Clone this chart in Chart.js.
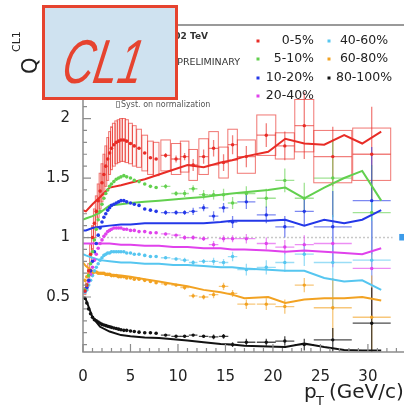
<!DOCTYPE html>
<html>
<head>
<meta charset="utf-8">
<script src="https://cdn.jsdelivr.net/npm/chart.js@4.4.1/dist/chart.umd.min.js"></script>
<style>
  html, body { margin: 0; padding: 0; background: #fff; }
</style>
</head>
<body>
<canvas id="cl1" width="408" height="409"></canvas>
<script>
// centrality classes and colours
const centralities = ['0-5%', '5-10%', '10-20%', '20-40%', '40-60%', '60-80%', '80-100%'];
const seriesRgb = [[232, 44, 38], [98, 208, 78], [36, 56, 232], [224, 66, 236], [86, 198, 240], [242, 162, 34], [18, 18, 18]];

const xTickValues = [0, 5, 10, 15, 20, 25, 30];
const xTickLabels = ['0', '5', '10', '15', '20', '25', '30'];
const yTickValues = [0.5, 1, 1.5, 2];
const yTickLabels = ['0.5', '1', '1.5', '2'];

// low pT (dense) bins
const ptDense = [0.2, 0.4, 0.6, 0.8, 1.0, 1.2, 1.4, 1.6, 1.8, 2.0, 2.2, 2.4, 2.6, 2.8, 3.0, 3.25, 3.5, 3.75, 4.0, 4.3, 4.6, 5.0, 5.4, 5.9, 6.5, 7.1, 7.7];
const ptDenseErr = [0.1, 0.1, 0.1, 0.1, 0.1, 0.1, 0.1, 0.1, 0.1, 0.1, 0.1, 0.1, 0.1, 0.1, 0.1, 0.15, 0.15, 0.15, 0.15, 0.18, 0.18, 0.2, 0.2, 0.25, 0.3, 0.3, 0.3];
// high pT (sparse) bins
const ptSparse = [8.7, 9.8, 10.7, 11.6, 12.7, 13.75, 14.8, 15.75, 17.2, 19.3, 21.25, 23.3, 26.3, 30.4];
const ptSparseErr = [0.5, 0.5, 0.45, 0.45, 0.5, 0.5, 0.5, 0.5, 0.95, 1.0, 1.0, 1.0, 2.0, 2.0];
// model curves
const ptModel = [0, 0.3, 1, 1.8, 2.8, 4, 5, 6.5, 8, 9.5, 11, 12.7, 14.5, 15.7, 17, 19.5, 21.3, 23.3, 25.4, 27.5, 29.4, 31.4];

// 0-5%
const q05Dense = [0.55, 0.60, 0.72, 0.86, 1.00, 1.12, 1.22, 1.31, 1.39, 1.46, 1.53, 1.60, 1.66, 1.71, 1.75, 1.78, 1.80, 1.81, 1.82, 1.82, 1.81, 1.79, 1.77, 1.75, 1.71, 1.67, 1.66];
const q05Sparse = [1.69, 1.66, 1.68, 1.61, 1.68, 1.75, 1.63, 1.78, 1.68, 1.86, 1.77, 1.94, 1.68, 1.70];
const q05Stat = [0.02, 0.03, 0.03, 0.05, 0.06, 0.07, 0.07, 0.08, 0.09, 0.10, 0.12, 0.28, 0.25, 0.40];
const q05SystDense = [0.03, 0.04, 0.06, 0.08, 0.10, 0.12, 0.13, 0.14, 0.15, 0.16, 0.17, 0.17, 0.18, 0.18, 0.18, 0.18, 0.18, 0.18, 0.18, 0.18, 0.18, 0.17, 0.17, 0.16, 0.15, 0.14, 0.14];
const q05SystSparse = [0.13, 0.13, 0.13, 0.13, 0.15, 0.14, 0.13, 0.13, 0.14, 0.17, 0.11, 0.22, 0.22, 0.22];
const q05Model = [1.23, 1.22, 1.28, 1.34, 1.42, 1.44, 1.46, 1.49, 1.53, 1.57, 1.61, 1.59, 1.63, 1.65, 1.68, 1.72, 1.83, 1.79, 1.78, 1.86, 1.79, 1.89];

// 5-10%
const q510Dense = [0.56, 0.60, 0.68, 0.78, 0.88, 0.98, 1.07, 1.15, 1.22, 1.28, 1.33, 1.37, 1.40, 1.43, 1.45, 1.47, 1.49, 1.50, 1.51, 1.52, 1.51, 1.50, 1.48, 1.47, 1.45, 1.43, 1.42];
const q510Sparse = [1.43, 1.37, 1.37, 1.41, 1.36, 1.36, 1.36, 1.29, 1.37, 1.33, 1.48, 1.33, 1.50, 1.21];
const q510Stat = [0.02, 0.02, 0.03, 0.03, 0.04, 0.04, 0.05, 0.05, 0.06, 0.08, 0.10, 0.13, 0.33, 0.40];
const q510Model = [1.15, 1.16, 1.18, 1.21, 1.27, 1.28, 1.29, 1.30, 1.31, 1.32, 1.33, 1.34, 1.36, 1.37, 1.38, 1.40, 1.42, 1.33, 1.42, 1.50, 1.56, 1.31];

// 10-20%
const q1020Dense = [0.55, 0.58, 0.64, 0.72, 0.80, 0.88, 0.95, 1.02, 1.08, 1.13, 1.17, 1.20, 1.23, 1.25, 1.27, 1.28, 1.29, 1.30, 1.31, 1.31, 1.30, 1.29, 1.28, 1.27, 1.24, 1.23, 1.22];
const q1020Sparse = [1.21, 1.21, 1.21, 1.22, 1.25, 1.18, 1.25, 1.13, 1.30, 1.19, 1.09, 1.22, 1.09, 1.31];
const q1020Stat = [0.02, 0.02, 0.02, 0.03, 0.03, 0.04, 0.04, 0.05, 0.06, 0.07, 0.09, 0.12, 0.30, 0.45];
const q1020Model = [1.06, 1.06, 1.08, 1.09, 1.10, 1.11, 1.11, 1.12, 1.12, 1.12, 1.12, 1.12, 1.13, 1.14, 1.14, 1.14, 1.15, 1.10, 1.15, 1.12, 1.15, 1.23];

// 20-40%
const q2040Dense = [0.55, 0.58, 0.63, 0.69, 0.75, 0.81, 0.86, 0.91, 0.95, 0.98, 1.01, 1.03, 1.05, 1.06, 1.07, 1.08, 1.08, 1.08, 1.08, 1.07, 1.07, 1.06, 1.06, 1.05, 1.05, 1.04, 1.04];
const q2040Sparse = [1.03, 1.02, 1.00, 1.00, 0.99, 0.94, 0.99, 0.99, 0.99, 0.95, 0.92, 0.94, 0.95, 0.74];
const q2040Stat = [0.01, 0.01, 0.02, 0.02, 0.02, 0.03, 0.03, 0.03, 0.04, 0.05, 0.06, 0.08, 0.20, 0.40];
const q2040Model = [0.95, 0.95, 0.95, 0.95, 0.95, 0.94, 0.94, 0.93, 0.93, 0.92, 0.92, 0.91, 0.91, 0.90, 0.90, 0.89, 0.88, 0.89, 0.88, 0.87, 0.86, 0.91];

// 40-60%
const q4060Dense = [0.54, 0.56, 0.60, 0.64, 0.68, 0.72, 0.75, 0.78, 0.81, 0.83, 0.85, 0.86, 0.87, 0.87, 0.88, 0.88, 0.88, 0.88, 0.88, 0.88, 0.87, 0.87, 0.86, 0.86, 0.85, 0.84, 0.84];
const q4060Sparse = [0.83, 0.82, 0.81, 0.79, 0.80, 0.80, 0.79, 0.84, 0.73, 0.75, 0.79, 0.86, 0.79, 0.81];
const q4060Stat = [0.01, 0.01, 0.02, 0.02, 0.02, 0.03, 0.03, 0.04, 0.05, 0.06, 0.08, 0.10, 0.40, 0.50];
const q4060Model = [0.86, 0.85, 0.83, 0.81, 0.80, 0.79, 0.79, 0.78, 0.78, 0.77, 0.77, 0.76, 0.75, 0.75, 0.74, 0.73, 0.72, 0.72, 0.66, 0.63, 0.64, 0.56];

// 60-80%
const q6080Dense = [0.64, 0.67, 0.69, 0.70, 0.70, 0.71, 0.71, 0.70, 0.70, 0.70, 0.70, 0.69, 0.69, 0.69, 0.68, 0.68, 0.68, 0.67, 0.67, 0.67, 0.66, 0.66, 0.65, 0.65, 0.64, 0.63, 0.62];
const q6080Sparse = [0.61, 0.60, 0.58, 0.51, 0.50, 0.52, 0.59, 0.53, 0.44, 0.44, 0.42, 0.60, 0.41, 0.33];
const q6080Stat = [0.01, 0.01, 0.02, 0.02, 0.02, 0.03, 0.03, 0.03, 0.04, 0.05, 0.06, 0.06, 0.25, 0.35];
const q6080Model = [0.79, 0.76, 0.72, 0.70, 0.69, 0.68, 0.67, 0.65, 0.63, 0.61, 0.59, 0.56, 0.54, 0.52, 0.49, 0.50, 0.45, 0.48, 0.49, 0.49, 0.50, 0.47];

// 80-100%
const q80100Dense = [0.49, 0.45, 0.40, 0.36, 0.33, 0.31, 0.30, 0.29, 0.28, 0.27, 0.265, 0.26, 0.255, 0.25, 0.245, 0.24, 0.235, 0.23, 0.225, 0.22, 0.22, 0.215, 0.21, 0.205, 0.20, 0.20, 0.195];
const q80100Sparse = [0.18, 0.17, 0.17, 0.18, 0.17, 0.165, 0.17, 0.10, 0.12, 0.12, 0.13, 0.10, 0.14, 0.28];
const q80100Stat = [0.01, 0.01, 0.01, 0.01, 0.01, 0.02, 0.02, 0.02, 0.03, 0.03, 0.04, 0.05, 0.10, 0.30];
const q80100Model = [0.50, 0.48, 0.33, 0.25, 0.21, 0.18, 0.17, 0.16, 0.155, 0.145, 0.135, 0.12, 0.105, 0.10, 0.09, 0.085, 0.08, 0.11, 0.08, 0.055, 0.05, 0.05];

const series = [
  { dense: q05Dense, sparse: q05Sparse, stat: q05Stat, model: q05Model },
  { dense: q510Dense, sparse: q510Sparse, stat: q510Stat, model: q510Model },
  { dense: q1020Dense, sparse: q1020Sparse, stat: q1020Stat, model: q1020Model },
  { dense: q2040Dense, sparse: q2040Sparse, stat: q2040Stat, model: q2040Model },
  { dense: q4060Dense, sparse: q4060Sparse, stat: q4060Stat, model: q4060Model },
  { dense: q6080Dense, sparse: q6080Sparse, stat: q6080Stat, model: q6080Model },
  { dense: q80100Dense, sparse: q80100Sparse, stat: q80100Stat, model: q80100Model },
];

const rgba = (c, a) => `rgba(${c[0]},${c[1]},${c[2]},${a})`;
const toPoints = (xs, ys) => xs.map((x, i) => ({ x: x, y: ys[i] }));

const datasets = [];
series.forEach((s, k) => {
  datasets.push({
    type: 'line',
    label: centralities[k] + ' model',
    data: toPoints(ptModel, s.model),
    borderColor: rgba(seriesRgb[k], 1),
    borderWidth: 2,
    pointRadius: 0,
    tension: 0,
    order: 3
  });
});
series.forEach((s, k) => {
  datasets.push({
    type: 'scatter',
    label: centralities[k],
    data: toPoints(ptDense, s.dense),
    backgroundColor: rgba(seriesRgb[k], 1),
    borderWidth: 0,
    pointRadius: 1.8,
    order: 2
  });
  datasets.push({
    type: 'scatter',
    label: centralities[k] + ' high pT',
    data: toPoints(ptSparse, s.sparse),
    backgroundColor: rgba(seriesRgb[k], 1),
    borderWidth: 0,
    pointRadius: 1.7,
    order: 1
  });
});

/* boxes, error bars, frame, legend, labels */
const extras = {
  id: 'extras',
  beforeDatasetsDraw(chart) {
    const { ctx, chartArea: a } = chart;
    const xs = chart.scales.x, ys = chart.scales.y;
    ctx.save();
    ctx.beginPath();
    ctx.rect(a.left, a.top, a.right - a.left, a.bottom - a.top);
    ctx.clip();

    // unity line
    ctx.strokeStyle = '#c8c8c8';
    ctx.lineWidth = 1.5;
    ctx.setLineDash([2, 2]);
    ctx.beginPath();
    ctx.moveTo(a.left, ys.getPixelForValue(1));
    ctx.lineTo(xs.getPixelForValue(32.6), ys.getPixelForValue(1));
    ctx.stroke();
    ctx.setLineDash([]);

    // normalisation uncertainty
    ctx.fillStyle = '#3d9be9';
    const nx = xs.getPixelForValue(33.3);
    ctx.fillRect(nx, ys.getPixelForValue(1.03), a.right - nx, ys.getPixelForValue(0.975) - ys.getPixelForValue(1.03));

    // 0-5% systematic boxes
    const box = (pt, dx, q, dq, fill) => {
      const x0 = xs.getPixelForValue(pt - dx), x1 = xs.getPixelForValue(pt + dx);
      const y0 = ys.getPixelForValue(q + dq), y1 = ys.getPixelForValue(q - dq);
      if (fill) ctx.fillRect(x0, y0, x1 - x0, y1 - y0);
      ctx.strokeRect(x0, y0, x1 - x0, y1 - y0);
    };
    ctx.strokeStyle = rgba(seriesRgb[0], 0.65);
    ctx.fillStyle = rgba(seriesRgb[0], 0.04);
    ctx.lineWidth = 1;
    ptDense.forEach((pt, i) => box(pt, ptDenseErr[i], q05Dense[i], q05SystDense[i], true));
    ptSparse.forEach((pt, i) => box(pt, ptSparseErr[i], q05Sparse[i], q05SystSparse[i], false));

    // statistical error bars
    ctx.lineWidth = 1.3;
    series.forEach((s, k) => {
      ctx.strokeStyle = rgba(seriesRgb[k], k === 6 ? 0.75 : 0.6);
      ptSparse.forEach((pt, i) => {
        const px = xs.getPixelForValue(pt), py = ys.getPixelForValue(s.sparse[i]);
        ctx.beginPath();
        ctx.moveTo(xs.getPixelForValue(pt - ptSparseErr[i]), py);
        ctx.lineTo(xs.getPixelForValue(pt + ptSparseErr[i]), py);
        ctx.moveTo(px, ys.getPixelForValue(s.sparse[i] + s.stat[i]));
        ctx.lineTo(px, ys.getPixelForValue(s.sparse[i] - s.stat[i]));
        ctx.stroke();
      });
    });
    ctx.restore();
  },
  afterDraw(chart) {
    const { ctx, chartArea: a } = chart;
    const xs = chart.scales.x, ys = chart.scales.y;
    ctx.save();

    // frame
    ctx.strokeStyle = '#9a9a9a';
    ctx.lineWidth = 2;
    ctx.beginPath();
    ctx.moveTo(a.left, a.top);
    ctx.lineTo(a.right, a.top);
    ctx.stroke();
    ctx.strokeStyle = '#8c8c8c';
    ctx.lineWidth = 1.5;
    ctx.beginPath();
    ctx.moveTo(a.left, a.top);
    ctx.lineTo(a.left, a.bottom);
    ctx.lineTo(a.right, a.bottom);
    ctx.stroke();

    // inward ticks
    ctx.lineWidth = 1.2;
    ctx.beginPath();
    for (let v = 0; v <= 33; v++) {
      const px = xs.getPixelForValue(v);
      ctx.moveTo(px, a.bottom);
      ctx.lineTo(px, a.bottom - (v % 5 === 0 ? 8 : 4));
    }
    for (let k = 1; k <= 27; k++) {
      const py = ys.getPixelForValue(k / 10);
      ctx.moveTo(a.left, py);
      ctx.lineTo(a.left + (k % 5 === 0 ? 8 : 4), py);
    }
    ctx.stroke();

    // legend
    ctx.fillStyle = '#222';
    ctx.font = '12.5px "DejaVu Sans"';
    ctx.textBaseline = 'middle';
    const rows = [41, 59, 78, 96];
    centralities.forEach((lab, k) => {
      const col = k < 4 ? 0 : 1;
      const y = rows[col === 0 ? k : k - 4];
      const mx = col === 0 ? 258 : 329;
      ctx.fillStyle = rgba(seriesRgb[k], 1);
      ctx.fillRect(mx - 1.5, y - 1.5, 3, 3);
      ctx.fillStyle = '#222';
      if (col === 0) {
        ctx.textAlign = 'right';
        ctx.fillText(lab, 314, y);
      } else {
        ctx.textAlign = 'center';
        ctx.fillText(lab, 364, y);
      }
    });

    // header texts
    ctx.textBaseline = 'alphabetic';
    ctx.fillStyle = '#333';
    ctx.textAlign = 'right';
    ctx.font = 'bold 9px "DejaVu Sans"';
    ctx.fillText('ALICE Pb-Pb \u221AsNN = 5.02 TeV', 208, 39);
    ctx.font = '9.5px "DejaVu Sans"';
    ctx.fillText('ALICE PRELIMINARY', 240, 65);
    ctx.textAlign = 'left';
    ctx.font = '8px "DejaVu Sans"';
    ctx.fillStyle = '#555';
    ctx.fillText('Syst. on normalization', 121, 107);
    ctx.strokeStyle = '#999';
    ctx.lineWidth = 1;
    ctx.strokeRect(116.5, 101.5, 3, 6);

    // axis titles
    ctx.fillStyle = '#222';
    ctx.font = '20px "DejaVu Sans"';
    ctx.fillText('p', 304, 398);
    ctx.font = '13px "DejaVu Sans"';
    ctx.fillText('T', 316, 405);
    ctx.font = '20px "DejaVu Sans"';
    ctx.fillText('(GeV/c)', 329, 398);

    ctx.save();
    ctx.translate(37, 74);
    ctx.rotate(-Math.PI / 2);
    ctx.font = '21px "DejaVu Sans"';
    ctx.fillText('Q', 0, 0);
    ctx.font = '11px "DejaVu Sans"';
    ctx.fillText('CL1', 22, -17);
    ctx.restore();

    // CL1 tag
    ctx.fillStyle = '#cfe2f0';
    ctx.fillRect(42, 5, 136, 95);
    ctx.strokeStyle = '#e6432f';
    ctx.lineWidth = 3;
    ctx.strokeRect(43.5, 6.5, 133, 92);
    ctx.save();
    ctx.translate(60, 83);
    ctx.transform(0.7, 0, -0.18, 1, 0, 0);
    ctx.fillStyle = '#e6432f';
    ctx.font = 'italic 62px "Liberation Sans"';
    ctx.fillText('CL1', 0, 0);
    ctx.restore();

    ctx.restore();
  }
};

new Chart(document.getElementById('cl1').getContext('2d'), {
  data: { datasets: datasets },
  options: {
    responsive: false,
    animation: false,
    devicePixelRatio: 1,
    layout: { padding: { top: 25, right: 0, bottom: 0, left: 0 } },
    plugins: {
      legend: { display: false },
      title: { display: false },
      tooltip: { enabled: false }
    },
    scales: {
      x: {
        type: 'linear',
        min: 0,
        max: 33.8,
        afterBuildTicks: (s) => { s.ticks = xTickValues.map(v => ({ value: v })); },
        afterFit: (s) => { s.height = 57; },
        grid: { display: false },
        border: { display: false },
        ticks: {
          color: '#222',
          padding: 8,
          maxRotation: 0,
          font: { family: 'DejaVu Sans', size: 15 },
          callback: (v, i) => xTickLabels[i]
        }
      },
      y: {
        type: 'linear',
        min: 0.038,
        max: 2.786,
        afterBuildTicks: (s) => { s.ticks = yTickValues.map(v => ({ value: v })); },
        afterFit: (s) => { s.width = 83; },
        grid: { display: false },
        border: { display: false },
        ticks: {
          color: '#222',
          padding: 5,
          font: { family: 'DejaVu Sans', size: 15 },
          callback: (v, i) => yTickLabels[i]
        }
      }
    }
  },
  plugins: [extras]
});
</script>
</body>
</html>
